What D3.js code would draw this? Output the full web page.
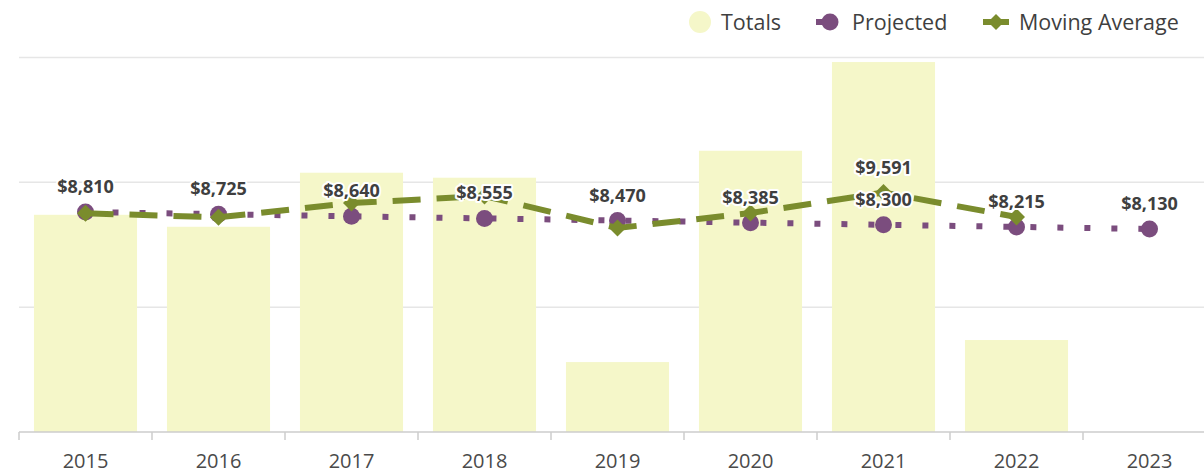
<!DOCTYPE html>
<html>
<head>
<meta charset="utf-8">
<script src="https://cdn.jsdelivr.net/npm/d3@7"></script>
<style>
  body { margin: 0; background: #fff; }
  svg { display: block; font-family: "Open Sans", sans-serif; }
</style>
</head>
<body>
<svg id="chart" width="1204" height="474"></svg>
<script>
const years = ['2015', '2016', '2017', '2018', '2019', '2020', '2021', '2022', '2023']
const totals = [8700, 8220, 10385, 10185, 2800, 11265, 14818, 3684, null]
const projected = [8810, 8725, 8640, 8555, 8470, 8385, 8300, 8215, 8130]
const movingAvg = [8760, 8600, 9170, 9450, 8170, 8770, 9591, 8610, null]
// only this moving average label is visible in the original
const movingAvgLabels = ['', '', '', '', '', '', '$9,591', '', '']
const yTicks = [0, 5000, 10000, 15000]

const barColor = '#f5f7c9'
const purple = '#7b4d7e'
const green = '#7a8c2d'
const textColor = '#3f3f3f'

const svg = d3.select('#chart')
const plotLeft = 19, plotRight = 1216, plotTop = 57.5, plotBottom = 432

const x = d3.scaleBand().domain(years).range([plotLeft, plotRight])
  .paddingInner(0.225).paddingOuter(0.1125)
const y = d3.scaleLinear().domain([0, 15000]).range([plotBottom, plotTop])
const cx = d => x(d) + x.bandwidth() / 2

// grid
svg.append('g').selectAll('line')
  .data(yTicks.filter(t => t > 0))
  .join('line')
  .attr('x1', plotLeft).attr('x2', 1204)
  .attr('y1', d => y(d)).attr('y2', d => y(d))
  .attr('stroke', '#e6e6e6').attr('stroke-width', 1.5)

// bars
svg.append('g').selectAll('rect')
  .data(years.map((yr, i) => ({ yr, v: totals[i] })).filter(d => d.v != null))
  .join('rect')
  .attr('x', d => x(d.yr))
  .attr('width', x.bandwidth())
  .attr('y', d => y(d.v))
  .attr('height', d => plotBottom - y(d.v))
  .attr('fill', barColor)

// x axis: line, ticks at band edges, labels
const axis = svg.append('g')
axis.append('line')
  .attr('x1', plotLeft).attr('x2', 1204).attr('y1', plotBottom).attr('y2', plotBottom)
  .attr('stroke', '#cccccc').attr('stroke-width', 1.5)
const step = x.step()
axis.selectAll('line.tick')
  .data(d3.range(years.length + 1))
  .join('line').attr('class', 'tick')
  .attr('x1', i => plotLeft + i * step).attr('x2', i => plotLeft + i * step)
  .attr('y1', plotBottom).attr('y2', plotBottom + 8)
  .attr('stroke', '#cccccc').attr('stroke-width', 1.5)
axis.selectAll('text')
  .data(years)
  .join('text')
  .attr('x', d => cx(d)).attr('y', 468)
  .attr('text-anchor', 'middle')
  .attr('font-size', 20).attr('fill', '#4a4a4a')
  .text(d => d)

// projected line (dotted)
const projPts = years.map((yr, i) => ({ yr, v: projected[i] }))
const line = d3.line().x(d => cx(d.yr)).y(d => y(d.v)).defined(d => d.v != null)
svg.append('path')
  .datum(projPts)
  .attr('d', line)
  .attr('fill', 'none').attr('stroke', purple)
  .attr('stroke-width', 6).attr('stroke-dasharray', '6,21')

svg.append('g').selectAll('circle')
  .data(projPts)
  .join('circle')
  .attr('cx', d => cx(d.yr)).attr('cy', d => y(d.v)).attr('r', 8.5)
  .attr('fill', purple)

// moving average (dashed)
const maPts = years.map((yr, i) => ({ yr, v: movingAvg[i], label: movingAvgLabels[i] }))
svg.append('path')
  .datum(maPts)
  .attr('d', line)
  .attr('fill', 'none').attr('stroke', green)
  .attr('stroke-width', 6).attr('stroke-dasharray', '28,16')

const diamond = (px, py, s) => `M${px},${py - s}L${px + s},${py}L${px},${py + s}L${px - s},${py}Z`
svg.append('g').selectAll('path')
  .data(maPts.filter(d => d.v != null))
  .join('path')
  .attr('d', d => diamond(cx(d.yr), y(d.v), 8.5))
  .attr('fill', green)

// data labels
const fmt = d3.format('$,')
const labels = svg.append('g')
  .attr('font-size', 18).attr('font-weight', 'bold')
  .attr('text-anchor', 'middle').attr('fill', textColor)
  .attr('stroke', '#fff').attr('stroke-width', 4)
  .attr('stroke-linejoin', 'round').attr('paint-order', 'stroke')
labels.selectAll('text.proj')
  .data(projPts)
  .join('text').attr('class', 'proj')
  .attr('x', d => cx(d.yr)).attr('y', d => y(d.v) - 19)
  .text(d => fmt(d.v))
labels.selectAll('text.ma')
  .data(maPts.filter(d => d.label))
  .join('text').attr('class', 'ma')
  .attr('x', d => cx(d.yr)).attr('y', d => y(d.v) - 19)
  .text(d => d.label)

// legend
const legend = svg.append('g').attr('font-size', 21.5).attr('fill', textColor)
legend.append('circle').attr('cx', 700).attr('cy', 22).attr('r', 11).attr('fill', barColor)
legend.append('text').attr('x', 721).attr('y', 30).text('Totals')
legend.append('line').attr('x1', 816).attr('x2', 830).attr('y1', 22).attr('y2', 22)
  .attr('stroke', purple).attr('stroke-width', 6)
legend.append('circle').attr('cx', 830).attr('cy', 22).attr('r', 8.5).attr('fill', purple)
legend.append('text').attr('x', 852).attr('y', 30).text('Projected')
legend.append('line').attr('x1', 983).attr('x2', 1009).attr('y1', 22).attr('y2', 22)
  .attr('stroke', green).attr('stroke-width', 6)
legend.append('path').attr('d', diamond(996, 22, 8)).attr('fill', green)
legend.append('text').attr('x', 1019).attr('y', 30).text('Moving Average')
</script>
</body>
</html>
